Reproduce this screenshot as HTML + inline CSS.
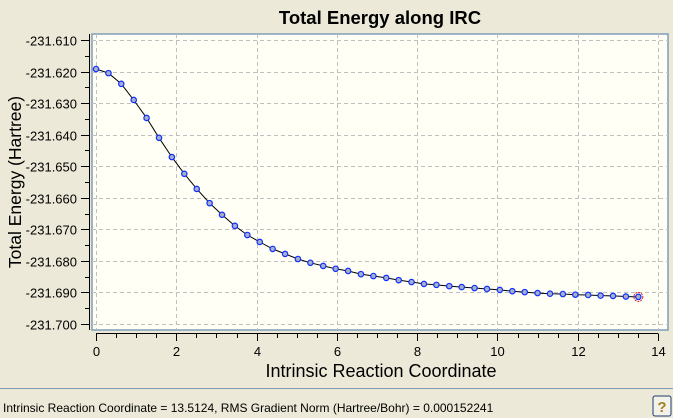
<!DOCTYPE html>
<html><head><meta charset="utf-8"><style>
body{margin:0;width:673px;height:418px;background:#ece9d8;overflow:hidden;font-family:"Liberation Sans",sans-serif}
svg{position:absolute;left:0;top:0}
</style></head><body>
<svg width="673" height="418">
<text x="380" y="24" text-anchor="middle" font-size="18.5" font-weight="bold">Total Energy along IRC</text>
<rect x="92" y="34" width="576" height="296" fill="#fffff6" stroke="#7f9db9" stroke-width="1.5"/>
<g id="grid"></g>
<g id="axes"></g>
<path id="line" fill="none" stroke="#000" stroke-width="1"/>
<g id="pts"></g>
<text x="381" y="377" text-anchor="middle" font-size="18">Intrinsic Reaction Coordinate</text>
<text transform="translate(21,182) rotate(-90)" text-anchor="middle" font-size="17.5">Total Energy (Hartree)</text>
<line x1="0" y1="388.5" x2="673" y2="388.5" stroke="#7f9db9"/>
<text x="3" y="412" font-size="12">Intrinsic Reaction Coordinate = 13.5124, RMS Gradient Norm (Hartree/Bohr) = 0.000152241</text>
<g><rect x="653" y="396" width="18" height="20" rx="2" fill="#f4f2e8" stroke="#1c3a6e"/><text x="662" y="412" text-anchor="middle" font-size="15" font-weight="bold" fill="#a08020">?</text></g>
</svg>
<script>
const xs=[0,0.31,0.63,0.94,1.26,1.57,1.89,2.2,2.51,2.83,3.14,3.46,3.77,4.08,4.4,4.71,5.03,5.34,5.66,5.97,6.28,6.6,6.91,7.23,7.54,7.86,8.17,8.48,8.8,9.11,9.43,9.74,10.06,10.37,10.68,11.0,11.31,11.63,11.94,12.26,12.57,12.88,13.2,13.51];
const offs=[0.0092,0.0105,0.0139,0.0190,0.0247,0.0310,0.0371,0.0424,0.0472,0.0517,0.0554,0.0589,0.0618,0.0640,0.0662,0.0678,0.0694,0.0706,0.0716,0.0725,0.0732,0.0742,0.0748,0.0754,0.0761,0.0767,0.0773,0.0776,0.0780,0.0783,0.0786,0.0789,0.0792,0.0796,0.0799,0.0802,0.0804,0.0805,0.0807,0.0808,0.0810,0.0811,0.0813,0.0814];
const energies=offs.map(o=>-231.610-o);
const yTicks=["-231.610","-231.620","-231.630","-231.640","-231.650","-231.660","-231.670","-231.680","-231.690","-231.700"];
const xTicks=["0","2","4","6","8","10","12","14"];
const NS="http://www.w3.org/2000/svg";
const X=v=>96+v*(658-96)/14;
const Y=v=>40+(-231.610-v)*(324-40)/0.090;
function mk(t,a,p){const e=document.createElementNS(NS,t);for(const k in a)e.setAttribute(k,a[k]);p.appendChild(e);return e;}
const grid=document.getElementById('grid'),axes=document.getElementById('axes');
mk('line',{x1:89.5,y1:34,x2:89.5,y2:330,stroke:'#000'},axes);
mk('line',{x1:96,y1:333.5,x2:658,y2:333.5,stroke:'#000'},axes);
yTicks.forEach((t,i)=>{const v=parseFloat(t),y=Math.round(Y(v))+0.5;
 const g=mk('line',{x1:92,y1:y,x2:668,y2:y,stroke:'#c0c0c0','stroke-dasharray':'4,3'},grid);
 
 mk('line',{x1:81,y1:y,x2:89.5,y2:y,stroke:'#000'},axes);
 if(i<yTicks.length-1){const ym=Math.round(Y(v-0.005))+0.5;mk('line',{x1:85,y1:ym,x2:89.5,y2:ym,stroke:'#000'},axes);}
 const tx=mk('text',{x:77,y:y+5,'text-anchor':'end','font-size':13},axes);tx.textContent=t;
 });
xTicks.forEach((t,i)=>{const v=parseFloat(t),x=Math.round(X(v))+0.5;
 const g=mk('line',{x1:x,y1:34,x2:x,y2:330,stroke:'#c0c0c0','stroke-dasharray':'4,3'},grid);
 
 mk('line',{x1:x,y1:333.5,x2:x,y2:341,stroke:'#000'},axes);
 if(i<xTicks.length-1)[0.5,1,1.5].forEach(d=>{const xm=Math.round(X(v+d))+0.5;mk('line',{x1:xm,y1:333.5,x2:xm,y2:338,stroke:'#000'},axes);});
 const tx=mk('text',{x:x,y:356,'text-anchor':'middle','font-size':13},axes);tx.textContent=t;
 });
document.getElementById('line').setAttribute('d',xs.map((x,i)=>(i?'L':'M')+X(x).toFixed(1)+','+Y(energies[i]).toFixed(1)).join(''));
const pts=document.getElementById('pts');
xs.forEach((x,i)=>{const c=mk('circle',{cx:X(x),cy:Y(energies[i]),r:2.7,fill:'#a8b0c8',stroke:'#1030ff','stroke-width':1.2},pts);
 });
const n=xs.length-1;
const sel=mk('circle',{cx:X(xs[n]),cy:Y(energies[n]),r:4.5,fill:'none',stroke:'#e02020','stroke-width':1,'stroke-dasharray':'2,1'},pts);

</script>
</body></html>
